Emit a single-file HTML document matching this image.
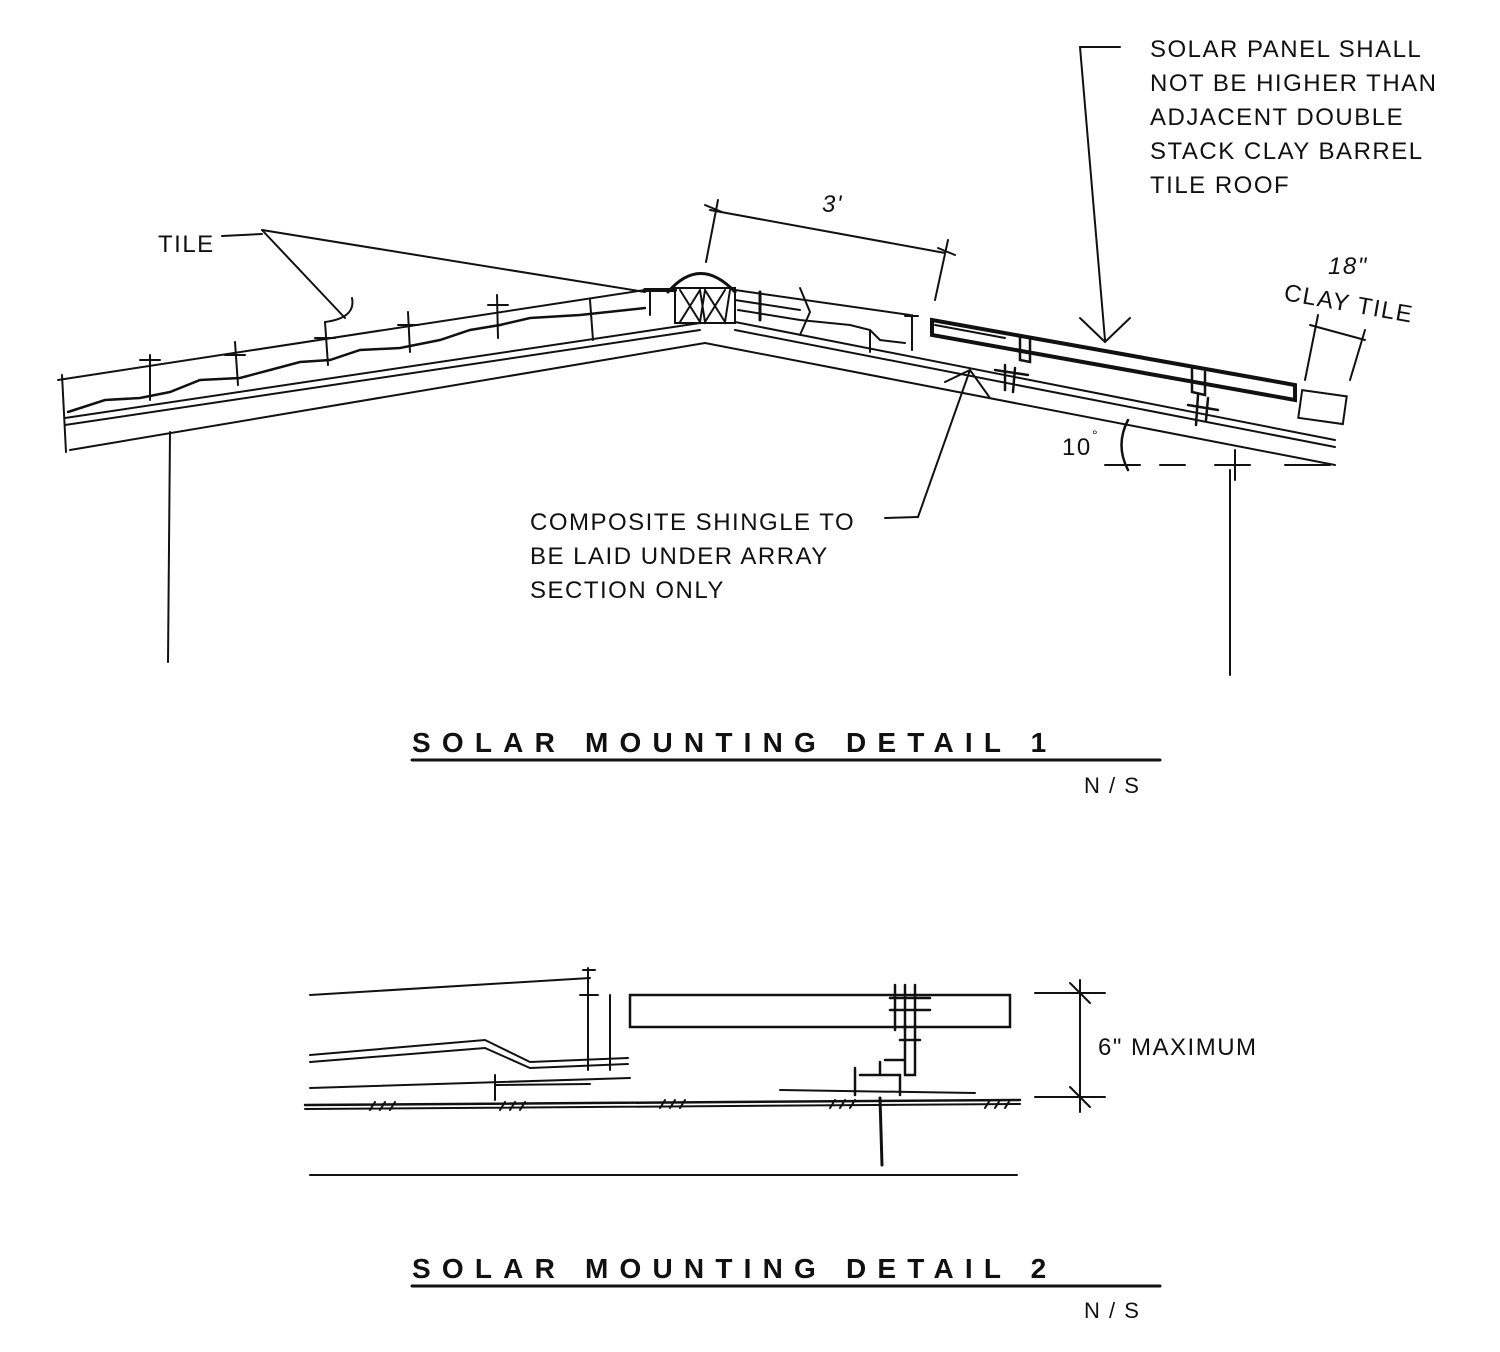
<!DOCTYPE html>
<html><head><style>
html,body{margin:0;padding:0;background:#fff;}
svg{display:block;}
text{font-family:"Liberation Sans",sans-serif;fill:#111;}
</style></head><body>
<svg width="1500" height="1352" viewBox="0 0 1500 1352" xmlns="http://www.w3.org/2000/svg">
<g stroke="#111" fill="none" stroke-width="2" stroke-linecap="round">
<!-- left roof -->
<line x1="58" y1="380" x2="645" y2="290"/>
<line x1="65" y1="418" x2="700" y2="323"/>
<line x1="65" y1="425" x2="700" y2="330"/>
<line x1="70" y1="450" x2="705" y2="343"/>
<line x1="62" y1="375" x2="66" y2="452"/>
<polyline points="68,412 105,400 140,398 170,392 200,380 240,378 270,370 300,362 330,360 360,350 400,348 440,340 470,330 500,325 530,318 580,315 645,308" stroke-width="2.5"/>
<line x1="140" y1="360" x2="160" y2="360"/><line x1="150" y1="355" x2="150" y2="400"/>
<line x1="225" y1="355" x2="245" y2="355"/><line x1="235" y1="342" x2="238" y2="385"/>
<line x1="315" y1="338" x2="335" y2="338"/><line x1="325" y1="322" x2="328" y2="365"/>
<line x1="398" y1="325" x2="418" y2="325"/><line x1="408" y1="312" x2="410" y2="352"/>
<line x1="488" y1="305" x2="508" y2="305"/><line x1="497" y1="295" x2="498" y2="338"/>
<line x1="590" y1="300" x2="593" y2="340"/>
<line x1="170" y1="432" x2="168" y2="662"/>
<!-- tile leader -->
<line x1="222" y1="236" x2="262" y2="234"/>
<line x1="262" y1="230" x2="645" y2="292"/>
<line x1="262" y1="230" x2="345" y2="318"/>
<path d="M352,298 Q356,318 325,322"/>
<!-- ridge -->
<path d="M668,292 Q700,255 735,292" stroke-width="3"/>
<rect x="675" y="288" width="60" height="35"/>
<path d="M680,290 L700,322 L705,290 L725,322 L730,290 M680,322 L700,290 L705,322 L725,290"/>
<line x1="645" y1="290" x2="675" y2="290" stroke-width="4"/>
<line x1="650" y1="290" x2="650" y2="315"/>
<!-- right roof -->
<line x1="705" y1="343" x2="1335" y2="465"/>
<line x1="735" y1="322" x2="1335" y2="440"/>
<line x1="735" y1="330" x2="1335" y2="447"/>
<line x1="735" y1="290" x2="910" y2="315"/>
<line x1="735" y1="300" x2="800" y2="310"/>
<polyline points="738,310 800,320 850,325 870,330 880,340 905,343"/>
<line x1="760" y1="292" x2="760" y2="320" stroke-width="3"/>
<path d="M800,288 L810,312 L800,335"/>
<line x1="870" y1="330" x2="870" y2="352"/>
<line x1="905" y1="316" x2="918" y2="316"/><line x1="912" y1="315" x2="912" y2="350"/>
<line x1="935" y1="325" x2="1005" y2="338"/>
<!-- panel -->
<polygon points="932,320 1295,385 1295,400 932,335" stroke-width="4"/>
<path d="M1020,338 L1020,360 L1030,362 L1030,340 M1005,365 L1005,390 M1015,368 L1013,392 M995,370 L1028,375" stroke-width="2.5"/>
<path d="M1192,368 L1192,392 L1205,395 L1205,372 M1198,395 L1196,425 M1208,398 L1206,420 M1188,405 L1218,410" stroke-width="2.5"/>
<rect x="1300" y="393" width="45" height="28" transform="rotate(8 1322 407)"/>
<!-- composite leader -->
<line x1="970" y1="370" x2="918" y2="517"/>
<line x1="918" y1="517" x2="885" y2="518"/>
<path d="M945,382 L970,370 L990,398"/>
<!-- dim 3' -->
<line x1="710" y1="210" x2="945" y2="253"/>
<line x1="718" y1="200" x2="706" y2="262"/><line x1="705" y1="205" x2="722" y2="212"/>
<line x1="948" y1="240" x2="935" y2="300"/><line x1="938" y1="248" x2="955" y2="255"/>
<!-- solar leader -->
<line x1="1080" y1="47" x2="1120" y2="47"/>
<line x1="1080" y1="47" x2="1105" y2="340"/>
<path d="M1080,318 L1105,342 L1130,318"/>
<!-- 18" -->
<line x1="1310" y1="325" x2="1365" y2="340"/>
<line x1="1318" y1="315" x2="1305" y2="380"/>
<line x1="1365" y1="330" x2="1350" y2="380"/>
<!-- 10 deg -->
<path d="M1128,420 Q1115,445 1128,470" stroke-width="2.5"/>
<line x1="1105" y1="465" x2="1140" y2="465"/>
<line x1="1160" y1="465" x2="1185" y2="465"/>
<line x1="1215" y1="465" x2="1250" y2="465"/>
<line x1="1235" y1="450" x2="1235" y2="480"/>
<line x1="1285" y1="465" x2="1330" y2="465"/>
<line x1="1230" y1="470" x2="1230" y2="675"/>
<!-- titles -->
<line x1="412" y1="760" x2="1160" y2="760" stroke-width="3"/>
<line x1="412" y1="1286" x2="1160" y2="1286" stroke-width="3"/>
<!-- detail 2 -->
<line x1="310" y1="995" x2="590" y2="978"/>
<line x1="583" y1="970" x2="595" y2="970"/><line x1="588" y1="968" x2="588" y2="1070"/>
<line x1="580" y1="995" x2="598" y2="995"/>
<line x1="610" y1="995" x2="610" y2="1070"/>
<polyline points="310,1055 485,1040 530,1062 628,1058"/>
<polyline points="310,1062 485,1048 530,1068 628,1064"/>
<line x1="310" y1="1088" x2="630" y2="1078"/>
<line x1="495" y1="1075" x2="495" y2="1100"/><line x1="495" y1="1085" x2="590" y2="1084"/>
<rect x="630" y="995" width="380" height="32" stroke-width="2.5"/>
<line x1="305" y1="1105" x2="1020" y2="1100" stroke-width="2.5"/>
<line x1="305" y1="1109" x2="1020" y2="1104"/>
<path d="M370,1110 l5,-8 M380,1110 l5,-8 M390,1110 l5,-8 M500,1110 l5,-8 M510,1110 l5,-8 M520,1110 l5,-8 M660,1108 l5,-8 M670,1108 l5,-8 M680,1108 l5,-8 M830,1108 l5,-8 M840,1108 l5,-8 M850,1108 l5,-8 M985,1108 l5,-8 M995,1108 l5,-8 M1005,1108 l5,-8"/>
<path d="M895,985 L895,1030 M905,985 L905,1030 M915,985 L915,1025 M890,998 L930,998 M890,1010 L930,1010" stroke-width="2.5"/>
<path d="M905,1025 L905,1075 L915,1075 L915,1025 M900,1040 L920,1040 M885,1060 L905,1060 M860,1075 L900,1075 L900,1095 M855,1068 L855,1095 M880,1062 L880,1075" stroke-width="2.5"/>
<line x1="780" y1="1090" x2="975" y2="1093"/>
<line x1="880" y1="1098" x2="882" y2="1165" stroke-width="3"/>
<line x1="310" y1="1175" x2="1017" y2="1175"/>
<line x1="1035" y1="993" x2="1105" y2="993"/>
<line x1="1035" y1="1097" x2="1105" y2="1097"/>
<line x1="1080" y1="980" x2="1080" y2="1112"/>
<line x1="1070" y1="983" x2="1090" y2="1003"/><line x1="1070" y1="1087" x2="1090" y2="1107"/>
</g>
<g font-size="24" letter-spacing="1.5">
<text x="158" y="252">TILE</text>
<text x="1150" y="57">SOLAR PANEL SHALL</text>
<text x="1150" y="91">NOT BE HIGHER THAN</text>
<text x="1150" y="125">ADJACENT DOUBLE</text>
<text x="1150" y="159">STACK CLAY BARREL</text>
<text x="1150" y="193">TILE ROOF</text>
<text x="822" y="212" font-style="italic">3'</text>
<text x="1328" y="274" font-style="italic">18"</text>
<text x="1283" y="300" transform="rotate(10 1283 300)">CLAY TILE</text>
<text x="1062" y="455">10</text><text x="1092" y="440" font-size="14">°</text>
<text x="530" y="530">COMPOSITE SHINGLE TO</text>
<text x="530" y="564">BE LAID UNDER ARRAY</text>
<text x="530" y="598">SECTION ONLY</text>
<text x="1098" y="1055">6" MAXIMUM</text>
<text x="1084" y="793" font-size="22">N / S</text>
<text x="1084" y="1318" font-size="22">N / S</text>
</g>
<text x="412" y="752" font-size="28" font-weight="bold" letter-spacing="11.2">SOLAR MOUNTING DETAIL 1</text>
<text x="412" y="1278" font-size="28" font-weight="bold" letter-spacing="11.2">SOLAR MOUNTING DETAIL 2</text>
</svg>
</body></html>
